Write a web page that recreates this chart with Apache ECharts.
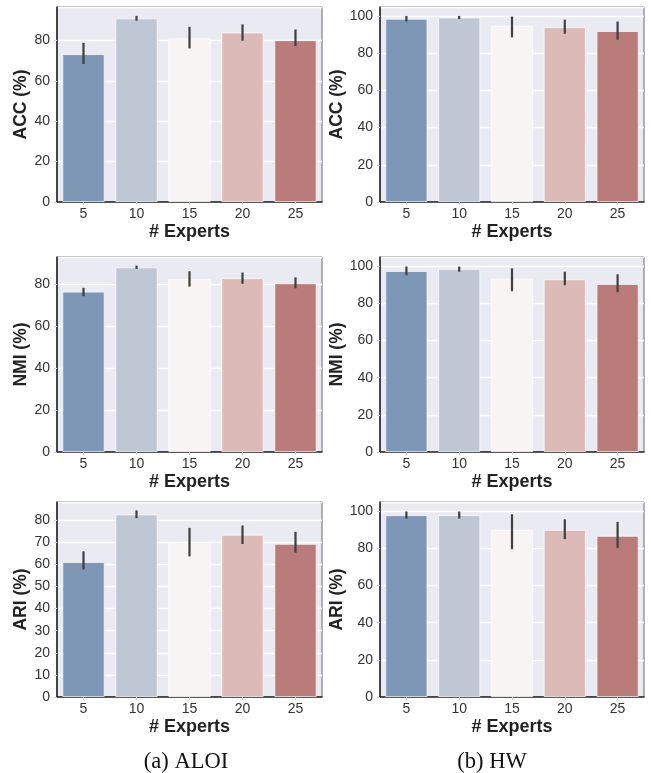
<!DOCTYPE html>
<html>
<head>
<meta charset="utf-8">
<title>Experts</title>
<script src="https://cdn.jsdelivr.net/npm/echarts@6/dist/echarts.min.js"></script>
<style>
  html, body { margin: 0; padding: 0; background: #fff; }
  #main { width: 651px; height: 773px; }
</style>
</head>
<body>
<div id="main"></div>
<script>
// x categories
var experts = ['5', '10', '15', '20', '25'];
var barColors = ['#7f97b7', '#bfc7d5', '#f8f4f3', '#dcbab8', '#ba7c7b'];

// ALOI
var aloiAcc = [73.2, 90.9, 81.0, 83.9, 80.1];
var aloiAccLo = [68.3, 89.7, 76.0, 79.8, 77.2];
var aloiAccHi = [78.8, 92.1, 86.7, 87.9, 85.4];
var aloiNmi = [76.5, 88.1, 82.5, 82.9, 80.5];
var aloiNmiLo = [74.3, 87.3, 78.9, 80.2, 78.1];
var aloiNmiHi = [78.3, 88.9, 86.2, 85.6, 83.3];
var aloiAri = [61.1, 82.6, 70.1, 73.4, 69.3];
var aloiAriLo = [57.7, 80.9, 63.6, 69.2, 65.3];
var aloiAriHi = [65.9, 84.4, 76.5, 77.6, 74.7];

// HW
var hwAcc = [98.4, 99.1, 94.6, 93.9, 91.8];
var hwAccLo = [96.9, 98.2, 88.4, 90.3, 87.1];
var hwAccHi = [99.9, 99.9, 99.6, 97.9, 96.9];
var hwNmi = [97.5, 98.6, 93.4, 93.0, 90.5];
var hwNmiLo = [95.2, 97.1, 86.6, 89.8, 86.1];
var hwNmiHi = [99.9, 99.9, 98.9, 97.1, 95.7];
var hwAri = [97.9, 98.0, 90.0, 90.0, 86.8];
var hwAriLo = [96.1, 96.1, 79.6, 85.0, 80.2];
var hwAriHi = [99.9, 99.9, 98.4, 95.7, 94.3];

// panels: [name, mean, lo, hi, ymax, interval, col, row]
var panels = [
  ['ACC (%)', aloiAcc, aloiAccLo, aloiAccHi, 96.5, 20, 0, 0],
  ['ACC (%)', hwAcc, hwAccLo, hwAccHi, 104.7, 20, 1, 0],
  ['NMI (%)', aloiNmi, aloiNmiLo, aloiNmiHi, 93, 20, 0, 1],
  ['NMI (%)', hwNmi, hwNmiLo, hwNmiHi, 105, 20, 1, 1],
  ['ARI (%)', aloiAri, aloiAriLo, aloiAriHi, 88.2, 10, 0, 2],
  ['ARI (%)', hwAri, hwAriLo, hwAriHi, 105, 20, 1, 2]
];

var colLeft = [57, 380];
var colWidth = [265, 264];
var rowTop = [7, 257, 502];
var plotH = 195;

var grids = [], xAxes = [], yAxes = [], series = [];

panels.forEach(function (p, i) {
  var col = p[6], row = p[7], step = p[5];
  grids.push({
    left: colLeft[col], top: rowTop[row], width: colWidth[col], height: plotH,
    show: true, backgroundColor: '#eaeaf2', borderColor: '#6a6a6a', borderWidth: 1
  });
  xAxes.push({
    type: 'category', gridIndex: i, data: experts,
    name: '# Experts', nameLocation: 'middle', nameGap: 21,
    nameTextStyle: { fontFamily: 'Liberation Sans', fontWeight: 'bold', fontSize: 18, color: '#222' },
    axisLine: { show: true, lineStyle: { color: '#222', width: 1.5 } },
    axisTick: { show: true, alignWithLabel: true, length: 3, lineStyle: { color: '#cfcfcf' } },
    axisLabel: { fontFamily: 'Liberation Sans', fontSize: 14, color: '#333', margin: 5 },
    splitLine: { show: false }
  });
  yAxes.push({
    type: 'value', gridIndex: i, min: 0, max: p[4], interval: step,
    name: p[0], nameLocation: 'middle', nameGap: col === 0 ? 25 : 34,
    nameTextStyle: { fontFamily: 'Liberation Sans', fontWeight: 'bold', fontSize: 17.5, color: '#222' },
    axisLine: { show: true, lineStyle: { color: '#222', width: 1.5 } },
    axisTick: { show: true, length: 3, lineStyle: { color: '#cfcfcf' } },
    axisLabel: {
      fontFamily: 'Liberation Sans', fontSize: 14, color: '#333', margin: 7,
      showMaxLabel: false,
      formatter: function (v) { return v % step === 0 ? String(v) : ''; }
    },
    splitLine: { show: true, lineStyle: { color: '#ffffff', width: 1.3 } }
  });
  series.push({
    type: 'bar', xAxisIndex: i, yAxisIndex: i,
    barCategoryGap: '20%',
    data: p[1].map(function (v, k) {
      return { value: v, itemStyle: { color: barColors[k], borderColor: 'rgba(255,255,255,0.7)', borderWidth: 1 } };
    }),
    z: 3
  });
  series.push({
    type: 'custom', xAxisIndex: i, yAxisIndex: i,
    data: p[2].map(function (lo, k) { return [k, lo, p[3][k]]; }),
    renderItem: function (params, api) {
      var a = api.coord([api.value(0), api.value(1)]);
      var b = api.coord([api.value(0), api.value(2)]);
      return {
        type: 'line',
        shape: { x1: a[0], y1: a[1], x2: b[0], y2: b[1] },
        style: { stroke: '#3f3f3f', lineWidth: 2.2 }
      };
    },
    z: 5
  });
});

var chart = echarts.init(document.getElementById('main'), null, { renderer: 'canvas' });
chart.setOption({
  animation: false,
  title: [
    { text: '(a) ALOI', left: 181, top: 746, textAlign: 'center',
      textStyle: { fontFamily: 'Liberation Serif', fontWeight: 'normal', fontSize: 22.5, color: '#111' } },
    { text: '(b) HW', left: 487, top: 746, textAlign: 'center',
      textStyle: { fontFamily: 'Liberation Serif', fontWeight: 'normal', fontSize: 22.5, color: '#111' } }
  ],
  grid: grids,
  xAxis: xAxes,
  yAxis: yAxes,
  series: series
});
</script>
</body>
</html>
